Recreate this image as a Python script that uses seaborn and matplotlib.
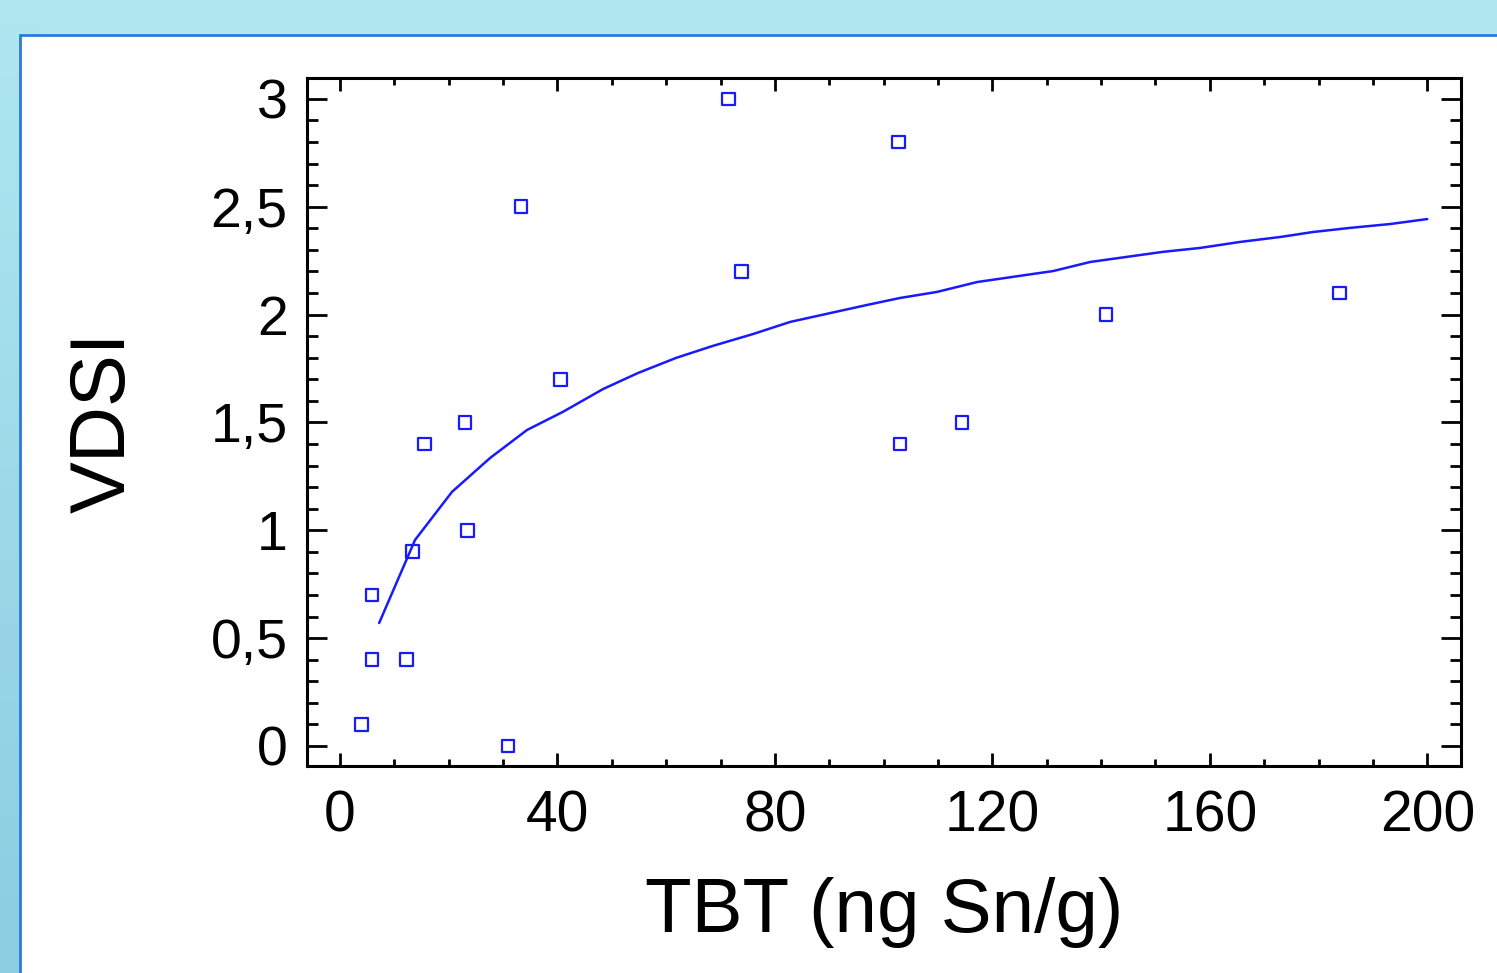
import numpy as np
import pandas as pd
import seaborn as sns
import matplotlib.pyplot as plt
from matplotlib.patches import Rectangle
from matplotlib.colors import LinearSegmentedColormap
from matplotlib.ticker import MultipleLocator, FuncFormatter

# observed samples
tbt = [3.9, 5.9, 5.9, 12.3, 13.4, 15.6, 23.0, 23.4, 30.9, 33.3, 40.5,
       71.4, 73.8, 102.7, 103.0, 114.4, 140.9, 183.8]
vdsi = [0.1, 0.7, 0.4, 0.4, 0.9, 1.4, 1.5, 1.0, 0.0, 2.5, 1.7,
        3.0, 2.2, 2.8, 1.4, 1.5, 2.0, 2.1]

# fitted curve
fit_x = [7.2, 13.8, 20.6, 27.6, 34.4, 41.0, 48.4, 54.8, 61.8, 68.6, 76.0,
         82.8, 97.0, 103.0, 109.8, 117.2, 131.2, 138.0, 151.4, 158.2,
         165.6, 173.0, 179.0, 185.8, 193.2, 200.0]
fit_y = [0.570, 0.955, 1.178, 1.335, 1.465, 1.549, 1.655, 1.729, 1.799,
         1.855, 1.910, 1.966, 2.045, 2.077, 2.105, 2.151, 2.202, 2.244,
         2.291, 2.309, 2.337, 2.360, 2.383, 2.402, 2.420, 2.443]

pts = pd.DataFrame({"TBT": tbt, "VDSI": vdsi})
curve = pd.DataFrame({"TBT": fit_x, "VDSI": fit_y})

sns.set_theme(style="ticks")
plt.rcParams['font.family'] = ['Liberation Sans', 'DejaVu Sans']
plt.rcParams.update({'text.color': 'black', 'axes.labelcolor': 'black',
                     'xtick.color': 'black', 'ytick.color': 'black'})

fig = plt.figure(figsize=(14.97, 9.73), dpi=100)
fig.patch.set_facecolor('#aee7f0')

# slide background: light cyan, a little darker down the left edge
bg = fig.add_axes([0, 0, 1, 1])
bg.set_zorder(-3)
bg.axis('off')
cmap = LinearSegmentedColormap.from_list('slide', ['#aee7f0', '#8ccde2'])
grad = np.tile(np.linspace(0, 1, 50)[:, None], (1, 2))
bg.imshow(grad, cmap=cmap, aspect='auto', extent=[0, 0.03, 0, 1], origin='upper')
bg.set_xlim(0, 1)
bg.set_ylim(0, 1)

# white slide panel with blue frame
fig.patches.append(Rectangle((20 / 1497, -0.05), 1.1, 0.05 + 1 - 35 / 973,
                             transform=fig.transFigure, facecolor='white',
                             edgecolor='#2f78d8', linewidth=2, zorder=-1))

ax = fig.add_axes([307 / 1497, 1 - 766 / 973, 1154 / 1497, 688 / 973])
ax.set_zorder(2)
ax.set_facecolor('white')

sns.lineplot(data=curve, x="TBT", y="VDSI", ax=ax, color='#1a1aff',
             linewidth=1.8, sort=False)
sns.scatterplot(data=pts, x="TBT", y="VDSI", ax=ax, marker='s', s=85,
                facecolor='none', edgecolor='#1a1aff', linewidth=1.6, zorder=3)

ax.set_xlim(-6.07, 206.2)
ax.set_ylim(-0.093, 3.097)

ax.xaxis.set_major_locator(MultipleLocator(40))
ax.xaxis.set_minor_locator(MultipleLocator(10))
ax.yaxis.set_major_locator(MultipleLocator(0.5))
ax.yaxis.set_minor_locator(MultipleLocator(0.1))
ax.yaxis.set_major_formatter(FuncFormatter(lambda v, p: f"{v:g}".replace('.', ',')))

for s in ax.spines.values():
    s.set_visible(True)
    s.set_linewidth(2.2)
    s.set_color('black')

ax.tick_params(axis='both', which='both', direction='in', top=True, right=True,
               width=2, color='black')
ax.tick_params(axis='x', which='major', length=9.5, pad=17, labelsize=41)
ax.tick_params(axis='x', which='minor', length=5)
ax.tick_params(axis='y', which='major', length=14.5, pad=14, labelsize=40)
ax.tick_params(axis='y', which='minor', length=8)

ax.set_xlabel("TBT (ng Sn/g)", fontsize=55, labelpad=24)
ax.set_ylabel("VDSI", fontsize=56, labelpad=50)

fig.savefig("out.png", dpi=100, facecolor=fig.get_facecolor())
